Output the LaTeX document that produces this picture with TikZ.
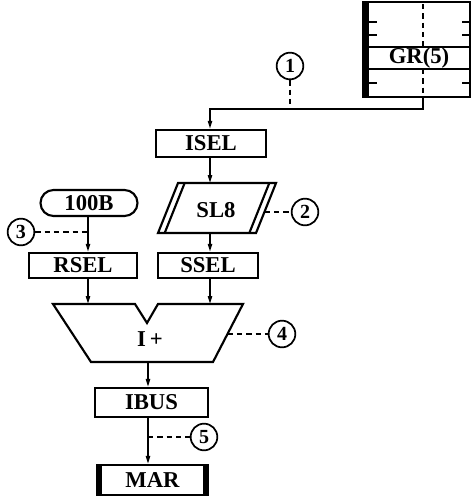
\documentclass[tikz,border=0pt]{standalone}
\usepackage{fontspec}
\setmainfont{Liberation Serif}
\usetikzlibrary{arrows.meta}
\begin{document}
\begin{tikzpicture}[x=0.75pt,y=-0.75pt,
  lbl/.style={font=\fontsize{17}{19}\selectfont\bfseries},
  box/.style={draw,line width=1.6pt,inner sep=0pt,lbl},
  num/.style={draw,circle,line width=1.3pt,minimum size=20pt,inner sep=0pt,font=\fontsize{15}{16}\selectfont\bfseries},
  conn/.style={line width=1.2pt},
  arr/.style={conn,-{Triangle[length=6pt,width=3.2pt]}},
  dsh/.style={line width=1.2pt,dash pattern=on 4pt off 3pt},
  frame/.style={line width=1.6pt}]
\useasboundingbox (0,0) rectangle (472,497);

% GR register block
\draw[frame] (363,2) rectangle (470,97);
\fill (363,2) rectangle (369,97);
\draw[frame] (363,47) -- (470,47);
\draw[frame] (363,69) -- (470,69);
\foreach \yy in {22,35,83} {
  \draw[conn] (369,\yy) -- (377,\yy);
  \draw[conn] (470,\yy) -- (462,\yy);
}
\draw[dsh] (423,4) -- (423,47);
\draw[dsh] (423,69) -- (423,97);
\node[lbl] (gr) at (419,58.5) {GR(5)};
\coordinate (grb) at (423,97);
\coordinate (j1) at (423,109);
\coordinate (j2) at (210,109);

% boxes
\node[box,minimum width=82.5pt,minimum height=20.5pt] (isel) at (211,143.5) {ISEL};
\node[box,minimum width=75pt,minimum height=19pt] (ssel) at (208,265.5) {SSEL};
\node[box,minimum width=81pt,minimum height=19pt] (rsel) at (83,265.5) {RSEL};
\node[box,minimum width=84.75pt,minimum height=21.75pt] (ibus) at (151.5,402.5) {IBUS};
\node[box,minimum width=83.25pt,minimum height=22.5pt] (mar) at (152.5,480) {MAR};
\fill (mar.north west) rectangle ++(6.5,30);
\fill (mar.north east) rectangle ++(-6.5,30);
\node[box,rounded corners=9.75pt,minimum width=72.75pt,minimum height=19.5pt] (b100) at (89,203) {100B};

% SL8 parallelogram with doubled slanted sides
\coordinate (p1) at (178,183);
\coordinate (p2) at (276,183);
\coordinate (p3) at (256,233);
\coordinate (p4) at (158,233);
\draw[frame] (p1) -- (p2) -- (p3) -- (p4) -- cycle;
\draw[frame] ([xshift=5]p1) -- ([xshift=5]p4);
\draw[frame] ([xshift=-5]p2) -- ([xshift=-5]p3);
\node[lbl] (sl8) at (216,210) {SL8};
\coordinate (sl8t) at (210,183);
\coordinate (sl8b) at (210,233);
\coordinate (sl8r) at (264.8,212);

% I+ adder
\coordinate (a1) at (53,304);
\coordinate (a2) at (135,304);
\coordinate (a3) at (147,323);
\coordinate (a4) at (158,304);
\coordinate (a5) at (243,304);
\coordinate (a6) at (213,362);
\coordinate (a7) at (91,362);
\draw[frame] (a1) -- (a2) -- (a3) -- (a4) -- (a5) -- (a6) -- (a7) -- cycle;
\node[lbl] (iplus) at (150,339) {I\,+};
\coordinate (ainl) at (88,304);
\coordinate (ainr) at (210,304);
\coordinate (aout) at (148,362);
\coordinate (aright) at (227.5,334);

% circled numbers
\node[num] (c1) at (290,66) {1};
\node[num] (c2) at (305,212) {2};
\node[num] (c3) at (21,232) {3};
\node[num] (c4) at (282,334) {4};
\node[num] (c5) at (204,437) {5};

% connectors
\draw[arr] (grb) -- (j1) -- (j2) -- (j2 |- isel.north);
\draw[arr] (isel.south -| sl8t) -- (sl8t);
\draw[arr] (sl8b) -- (sl8b |- ssel.north);
\draw[arr] (b100.south -| ainl) -- (ainl |- rsel.north);
\draw[arr] (rsel.south -| ainl) -- (ainl);
\draw[arr] (ssel.south -| ainr) -- (ainr);
\draw[arr] (aout) -- (aout |- ibus.north);
\draw[arr] (ibus.south -| aout) -- (aout |- mar.north);

% dashed leaders
\draw[dsh] (c1.south) -- (c1 |- j1);
\draw[dsh] (sl8r) -- (c2.west);
\draw[dsh] (c3.east) -- (c3 -| ainl);
\draw[dsh] (aright) -- (c4.west);
\draw[dsh] (c5.west -| aout) -- (c5.west);
\end{tikzpicture}
\end{document}
